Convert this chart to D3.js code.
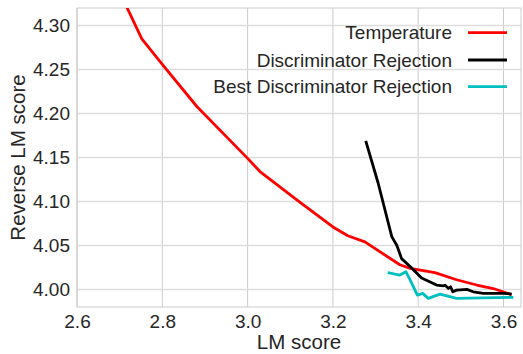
<!DOCTYPE html>
<html>
<head>
<meta charset="utf-8">
<script src="https://cdn.jsdelivr.net/npm/d3@7"></script>
<style>
  body { margin: 0; background: #fff; }
  text { font-family: "Liberation Sans", Arial, sans-serif; fill: #262626; }
</style>
</head>
<body>
<svg id="chart" width="523" height="354"></svg>
<script>
// series
const tempX = [2.703, 2.752, 2.800, 2.881, 3.000, 3.029, 3.120, 3.200, 3.235, 3.275, 3.357, 3.381, 3.439, 3.490, 3.537, 3.576, 3.619];
const tempY = [4.335, 4.285, 4.256, 4.208, 4.149, 4.134, 4.100, 4.071, 4.061, 4.054, 4.028, 4.024, 4.019, 4.011, 4.005, 4.001, 3.994];

const discX = [3.277, 3.306, 3.338, 3.350, 3.361, 3.381, 3.408, 3.443, 3.459, 3.463, 3.471, 3.476, 3.481, 3.490, 3.514, 3.529, 3.553, 3.600, 3.619];
const discY = [4.169, 4.121, 4.060, 4.050, 4.035, 4.026, 4.013, 4.005, 4.004, 4.0047, 4.0012, 4.003, 3.9973, 3.9992, 4.000, 3.9973, 3.9955, 3.9955, 3.9947];

const bestX = [3.3285, 3.357, 3.3714, 3.385, 3.398, 3.4106, 3.4237, 3.451, 3.490, 3.623];
const bestY = [4.019, 4.0163, 4.020, 4.0069, 3.9936, 3.9955, 3.9898, 3.9947, 3.9898, 3.9910];

const xTicks = [2.6, 2.8, 3.0, 3.2, 3.4, 3.6];
const yTicks = [4.00, 4.05, 4.10, 4.15, 4.20, 4.25, 4.30];

const seriesNames = ["Temperature", "Discriminator Rejection", "Best Discriminator Rejection"];
const seriesColors = ["#ff0000", "#000000", "#00bfbf"];

const plotL = 77, plotR = 521, plotT = 8, plotB = 307;

const svg = d3.select("#chart");

const x = d3.scaleLinear().domain([2.6, 3.641]).range([plotL, plotR]);
const y = d3.scaleLinear().domain([3.98, 4.32]).range([plotB, plotT]);

// grid
svg.append("g")
  .selectAll("line")
  .data(xTicks)
  .enter()
  .append("line")
  .attr("x1", d => x(d)).attr("x2", d => x(d))
  .attr("y1", plotT).attr("y2", plotB)
  .attr("stroke", "#cccccc").attr("stroke-width", 1);

svg.append("g")
  .selectAll("line")
  .data(yTicks)
  .enter()
  .append("line")
  .attr("x1", plotL).attr("x2", plotR)
  .attr("y1", d => y(d)).attr("y2", d => y(d))
  .attr("stroke", "#dddddd").attr("stroke-width", 1.5);

// frame
svg.append("rect")
  .attr("x", plotL).attr("y", plotT)
  .attr("width", plotR - plotL).attr("height", plotB - plotT)
  .attr("fill", "none").attr("stroke", "#cccccc").attr("stroke-width", 1);

// axes, text only
const xAxis = svg.append("g")
  .attr("transform", `translate(0,${plotB})`)
  .call(d3.axisBottom(x).tickValues(xTicks).tickFormat(d3.format(".1f")).tickSize(0).tickPadding(8));
const yAxis = svg.append("g")
  .attr("transform", `translate(${plotL},0)`)
  .call(d3.axisLeft(y).tickValues(yTicks).tickFormat(d3.format(".2f")).tickSize(0).tickPadding(7));
[xAxis, yAxis].forEach(a => {
  a.select(".domain").remove();
  a.selectAll("text")
    .attr("font-size", 19)
    .attr("font-family", "Liberation Sans, Arial, sans-serif")
    .attr("fill", "#262626");
});

// clip lines to plotting area
svg.append("clipPath").attr("id", "clip")
  .append("rect")
  .attr("x", plotL).attr("y", plotT)
  .attr("width", plotR - plotL).attr("height", plotB - plotT);

const line = d3.line().x(d => x(d[0])).y(d => y(d[1]));

const series = [
  d3.zip(tempX, tempY),
  d3.zip(discX, discY),
  d3.zip(bestX, bestY)
];

const plot = svg.append("g").attr("clip-path", "url(#clip)");
series.forEach((s, i) => {
  plot.append("path")
    .datum(s)
    .attr("d", line)
    .attr("fill", "none")
    .attr("stroke", seriesColors[i])
    .attr("stroke-width", 2.8)
    .attr("stroke-linejoin", "round");
});

// axis labels
svg.append("text")
  .attr("x", (plotL + plotR) / 2)
  .attr("y", 349)
  .attr("text-anchor", "middle")
  .attr("font-size", 20.5)
  .text("LM score");

svg.append("text")
  .attr("transform", `translate(25,${(plotT + plotB) / 2}) rotate(-90)`)
  .attr("text-anchor", "middle")
  .attr("font-size", 20.5)
  .text("Reverse LM score");

// legend
const legend = svg.append("g");
const rowsY = [32.7, 60, 86.7];
seriesNames.forEach((name, i) => {
  legend.append("line")
    .attr("x1", 468).attr("x2", 507)
    .attr("y1", rowsY[i]).attr("y2", rowsY[i])
    .attr("stroke", seriesColors[i])
    .attr("stroke-width", 2.8);
  legend.append("text")
    .attr("x", 452)
    .attr("y", rowsY[i])
    .attr("dy", "0.35em")
    .attr("text-anchor", "end")
    .attr("font-size", 19)
    .text(name);
});
</script>
</body>
</html>
